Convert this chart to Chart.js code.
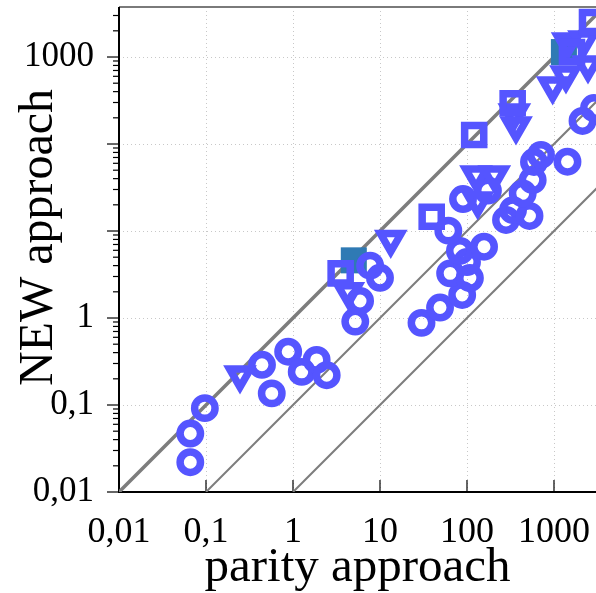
<!DOCTYPE html>
<html lang="en">
<head>
    <meta charset="UTF-8">
    <title>NEW vs parity approach</title>
    <script src="https://cdn.jsdelivr.net/npm/chart.js@4/dist/chart.umd.min.js"></script>
    <style>
        * { margin: 0; padding: 0; }
        body { background: white; width: 596px; height: 593px; overflow: hidden; }
    </style>
</head>
<body>
    <canvas id="chart" width="596" height="593"></canvas>

    <script>
        // runtimes (parity approach = x, NEW approach = y)
        const circleX = [0.066, 0.066, 0.097, 0.44, 0.57, 0.88, 1.26, 1.87, 2.44, 5.2, 5.9, 7.7, 10, 30, 49, 88, 64, 108, 100, 83, 157, 61, 90, 174, 281, 338, 523, 437, 569, 589, 709, 1429, 2128, 2884];
        const circleY = [0.022, 0.047, 0.092, 0.29, 0.136, 0.41, 0.24, 0.33, 0.22, 0.91, 1.57, 4.0, 2.9, 0.88, 1.32, 1.84, 3.26, 2.88, 4.4, 5.9, 6.6, 10.1, 23.3, 29.2, 13.4, 17.4, 14.9, 27.1, 38.5, 62.1, 74.8, 62.6, 184, 259];

        const squareX = [3.53, 39.3, 121, 335, 1610, 2735];
        const squareY = [3.26, 14.6, 127, 294, 1141, 2525];

        const triangleX = [0.246, 4.32, 13.3, 127, 206, 133, 350, 366, 966, 1374, 1436, 2213, 2460];
        const triangleY = [0.221, 2.01, 7.98, 44, 44, 22.1, 227, 161, 464, 621, 1487, 1567, 809];

        const tealX = [5.0, 1300];
        const tealY = [4.6, 1140];

        // reference lines y = x / ratio
        const ratios = [1, 10, 100];

        const decades = [0.01, 0.1, 1, 10, 100, 1000];
        const yLabelled = [0.01, 0.1, 1, 1000];

        const xMax = 3040;
        const yMax = 3757;

        const blue = '#5555ff';
        const teal = '#2f7ab4';
        const serif = "'Liberation Serif', 'DejaVu Serif', serif";

        const pts = (xs, ys) => xs.map((x, i) => ({ x: x, y: ys[i] }));
        const fmt = v => String(v).replace('.', ',');

        const noPad = s => {
            s.paddingLeft = 0;
            s.paddingRight = 0;
            s.paddingTop = 0;
            s.paddingBottom = 0;
        };

        const frame = {
            id: 'frame',
            beforeDatasetsDraw(chart) {
                const { ctx, chartArea: a, scales: { x, y } } = chart;
                ctx.save();

                // dotted grid
                ctx.strokeStyle = '#c8c8c8';
                ctx.lineWidth = 1;
                ctx.setLineDash([1, 3]);
                decades.slice(1).forEach(v => {
                    const px = Math.round(x.getPixelForValue(v)) + 0.5;
                    ctx.beginPath(); ctx.moveTo(px, a.top); ctx.lineTo(px, a.bottom); ctx.stroke();
                    const py = Math.round(y.getPixelForValue(v)) + 0.5;
                    ctx.beginPath(); ctx.moveTo(a.left, py); ctx.lineTo(a.right, py); ctx.stroke();
                });
                ctx.setLineDash([]);

                // top border
                ctx.strokeStyle = '#7a7a7a';
                ctx.lineWidth = 2;
                ctx.beginPath(); ctx.moveTo(a.left, a.top); ctx.lineTo(a.right, a.top); ctx.stroke();

                // y ticks, outward, with minors
                ctx.strokeStyle = '#000';
                ctx.lineWidth = 1.2;
                decades.forEach(d => {
                    for (let k = 1; k <= 9; k++) {
                        const v = d * k;
                        if (v > yMax) break;
                        const py = y.getPixelForValue(v);
                        const len = k === 1 ? 12 : 6;
                        ctx.beginPath(); ctx.moveTo(a.left - len, py); ctx.lineTo(a.left, py); ctx.stroke();
                    }
                });

                // x ticks, inward
                decades.forEach(v => {
                    const px = x.getPixelForValue(v);
                    ctx.beginPath(); ctx.moveTo(px, a.bottom); ctx.lineTo(px, a.bottom - 12); ctx.stroke();
                });

                // axes
                ctx.lineWidth = 2;
                ctx.beginPath();
                ctx.moveTo(a.left, a.top);
                ctx.lineTo(a.left, a.bottom);
                ctx.lineTo(a.right, a.bottom);
                ctx.stroke();
                ctx.restore();
            }
        };

        const lineSets = ratios.map((r, i) => ({
            data: [{ x: 0.01 * r, y: 0.01 }, { x: 10000 * r, y: 10000 }],
            showLine: true,
            pointRadius: 0,
            borderColor: '#7d7d7d',
            borderWidth: i === 0 ? 3.5 : 2,
            order: 10
        }));

        const marker = {
            borderColor: blue,
            backgroundColor: 'transparent',
            borderWidth: 7.5,
            order: 1
        };

        new Chart(document.getElementById('chart'), {
            type: 'scatter',
            data: {
                datasets: [
                    ...lineSets,
                    {
                        data: pts(tealX, tealY),
                        pointStyle: 'rect',
                        pointRadius: 18.4,
                        backgroundColor: teal,
                        borderWidth: 0,
                        order: 5
                    },
                    { ...marker, data: pts(squareX, squareY), pointStyle: 'rect', pointRadius: 13.5 },
                    { ...marker, data: pts(triangleX, triangleY), pointStyle: 'triangle', pointRotation: 180, pointRadius: 12 },
                    { ...marker, data: pts(circleX, circleY), pointStyle: 'circle', pointRadius: 10.2 }
                ]
            },
            options: {
                responsive: false,
                animation: false,
                layout: { autoPadding: false, padding: { top: 7, right: 0, left: 0, bottom: 0 } },
                plugins: {
                    legend: { display: false },
                    tooltip: { enabled: false }
                },
                scales: {
                    x: {
                        type: 'logarithmic',
                        min: 0.01,
                        max: xMax,
                        afterBuildTicks: s => { s.ticks = decades.map(v => ({ value: v })); },
                        afterFit: s => { s.height = 101; noPad(s); },
                        grid: { display: false, drawTicks: false },
                        border: { display: false },
                        ticks: {
                            autoSkip: false,
                            maxRotation: 0,
                            padding: 19,
                            color: '#000',
                            font: { family: serif, size: 36 },
                            callback: v => fmt(v)
                        },
                        title: {
                            display: true,
                            text: 'parity approach',
                            color: '#000',
                            font: { family: serif, size: 49 },
                            padding: { top: 0, bottom: -5 }
                        }
                    },
                    y: {
                        type: 'logarithmic',
                        min: 0.01,
                        max: yMax,
                        afterBuildTicks: s => { s.ticks = decades.map(v => ({ value: v })); },
                        afterFit: s => { s.width = 119; noPad(s); },
                        grid: { display: false, drawTicks: false },
                        border: { display: false },
                        ticks: {
                            autoSkip: false,
                            padding: 25,
                            color: '#000',
                            font: { family: serif, size: 35 },
                            callback: v => yLabelled.includes(v) ? fmt(v) : ''
                        },
                        title: {
                            display: true,
                            text: '  NEW approach',
                            color: '#000',
                            font: { family: serif, size: 48 },
                            padding: { top: 11, bottom: 0 }
                        }
                    }
                }
            },
            plugins: [frame]
        });
    </script>
</body>
</html>
